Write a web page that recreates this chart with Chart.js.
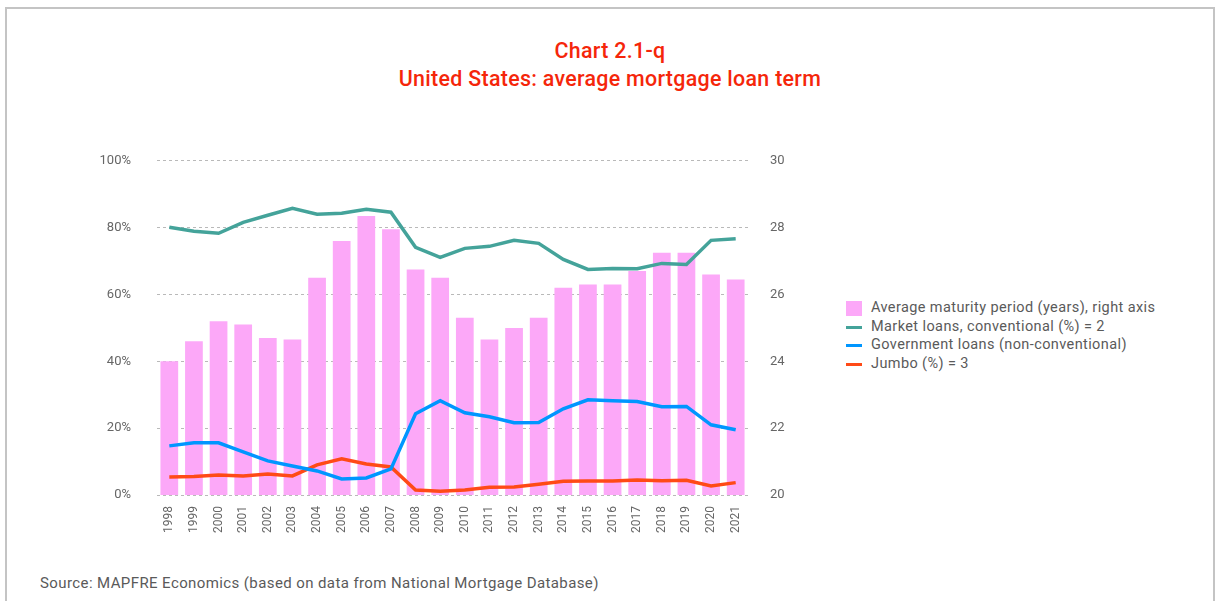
<!DOCTYPE html>
<html>
<head>
<meta charset="utf-8">
<script src="https://cdn.jsdelivr.net/npm/chart.js@4.4.1/dist/chart.umd.min.js"></script>
<style>
  html, body { margin:0; padding:0; background:#fff; }
  body { width:1224px; height:601px; position:relative; overflow:hidden; font-family: Roboto, "Open Sans", sans-serif; }
  .frame { position:absolute; left:5px; top:7px; width:1210px; height:620px; border:2px solid #c4c4c4; box-sizing:border-box; }
  .title { position:absolute; left:0; width:1220px; text-align:center; color:#f5260a; font-size:21.4px; font-weight:500; letter-spacing:0.3px; }
  .src { position:absolute; left:40px; top:574px; font-size:15px; letter-spacing:0.4px; color:#5a5a5a; }
  .chartbox { position:absolute; left:0; top:127px; width:808px; height:413px; }
  .legend { position:absolute; left:846px; top:299px; font-size:14.5px; letter-spacing:0.4px; color:#5a5a5a; }
  .legend div { height:18.5px; line-height:18.5px; position:relative; padding-left:25px; white-space:nowrap; }
  .legend span { position:absolute; left:0; }
</style>
</head>
<body>
<div class="frame"></div>
<div class="title" style="top:38px">Chart 2.1-q</div>
<div class="title" style="top:66px">United States: average mortgage loan term</div>
<div class="chartbox"><canvas id="c"></canvas></div>
<div class="legend" id="legend"></div>
<div class="src">Source: MAPFRE Economics (based on data from National Mortgage Database)</div>
<script>
/* US mortgage loan term: bars on right axis, shares on left axis */
const years = ['1998','1999','2000','2001','2002','2003','2004','2005','2006','2007','2008','2009',
               '2010','2011','2012','2013','2014','2015','2016','2017','2018','2019','2020','2021'];

// average maturity period, years (right axis)
const maturity = [24.0, 24.6, 25.2, 25.1, 24.7, 24.65, 26.5, 27.6, 28.35, 27.95, 26.75, 26.5,
                  25.3, 24.65, 25.0, 25.3, 26.2, 26.3, 26.3, 26.7, 27.25, 27.25, 26.6, 26.45];
// shares, % (left axis)
const conventional = [80.1, 78.9, 78.3, 81.6, 83.7, 85.8, 84.0, 84.3, 85.5, 84.6, 74.1, 71.1,
                      73.8, 74.4, 76.2, 75.3, 70.5, 67.5, 67.8, 67.7, 69.3, 69.0, 76.2, 76.7];
const government = [14.7, 15.6, 15.6, 12.9, 10.2, 8.7, 7.2, 4.8, 5.1, 7.8, 24.3, 28.2,
                    24.6, 23.4, 21.6, 21.7, 25.8, 28.5, 28.2, 28.0, 26.4, 26.5, 21.0, 19.5];
const jumbo = [5.4, 5.5, 6.0, 5.7, 6.3, 5.7, 9.0, 10.8, 9.3, 8.4, 1.5, 1.1,
               1.5, 2.3, 2.4, 3.2, 4.1, 4.2, 4.2, 4.5, 4.3, 4.4, 2.7, 3.7];

const seriesNames = ['Average maturity period (years), right axis', 'Market loans, conventional (%) = 2',
                     'Government loans (non-conventional)', 'Jumbo (%) = 3'];
const colors = ['#fca8f8', '#44a39a', '#0096ff', '#ff4a17'];

const tickFont = { family: 'Roboto', size: 13 };
const tickColor = '#666';

function lineSet(i, data){
  return { type:'line', label: seriesNames[i], data, yAxisID:'y', borderColor: colors[i],
           backgroundColor: colors[i], borderWidth: 3.5, pointRadius: 0, tension: 0, order: 1 };
}

const chart = new Chart(document.getElementById('c'), {
  data: {
    labels: years,
    datasets: [
      { type:'bar', label: seriesNames[0], data: maturity, yAxisID:'y1', backgroundColor: colors[0],
        categoryPercentage: 1, barPercentage: 0.72, order: 10 },
      lineSet(1, conventional),
      lineSet(2, government),
      lineSet(3, jumbo)
    ]
  },
  options: {
    responsive: true,
    maintainAspectRatio: false,
    animation: false,
    layout: { padding: { top: 10, bottom: 0, left: 0, right: 0 } },
    plugins: { legend: { display: false }, tooltip: { enabled: false } },
    scales: {
      x: {
        grid: { display: false }, border: { display: false },
        ticks: { font: { family:'Roboto', size: 12 }, color: tickColor, minRotation: 90, maxRotation: 90, padding: 3, autoSkip: false },
        afterFit(s){ s.height = 45; }
      },
      y: {
        position: 'left', min: 0, max: 100,
        grid: { color: '#b9b9b9', lineWidth: 1, drawTicks: false },
        border: { display: false, dash: [3, 3] },
        ticks: { stepSize: 20, font: tickFont, color: tickColor, padding: 26, callback: v => v + '%' },
        afterFit(s){ s.width = 157; }
      },
      y1: {
        position: 'right', min: 20, max: 30,
        grid: { display: false, drawTicks: false },
        border: { display: false },
        ticks: { stepSize: 2, font: tickFont, color: tickColor, padding: 22 },
        afterFit(s){ s.width = 60; }
      }
    }
  }
});

// legend built from the same series names and colours
const lg = document.getElementById('legend');
seriesNames.forEach((name, i) => {
  const row = document.createElement('div');
  const mark = document.createElement('span');
  if (i === 0) {
    mark.style.cssText = `top:2px;width:16px;height:15px;background:${colors[i]}`;
  } else {
    mark.style.cssText = `top:8px;width:16px;height:3px;background:${colors[i]}`;
  }
  row.appendChild(mark);
  row.appendChild(document.createTextNode(name));
  lg.appendChild(row);
});
</script>
</body>
</html>
